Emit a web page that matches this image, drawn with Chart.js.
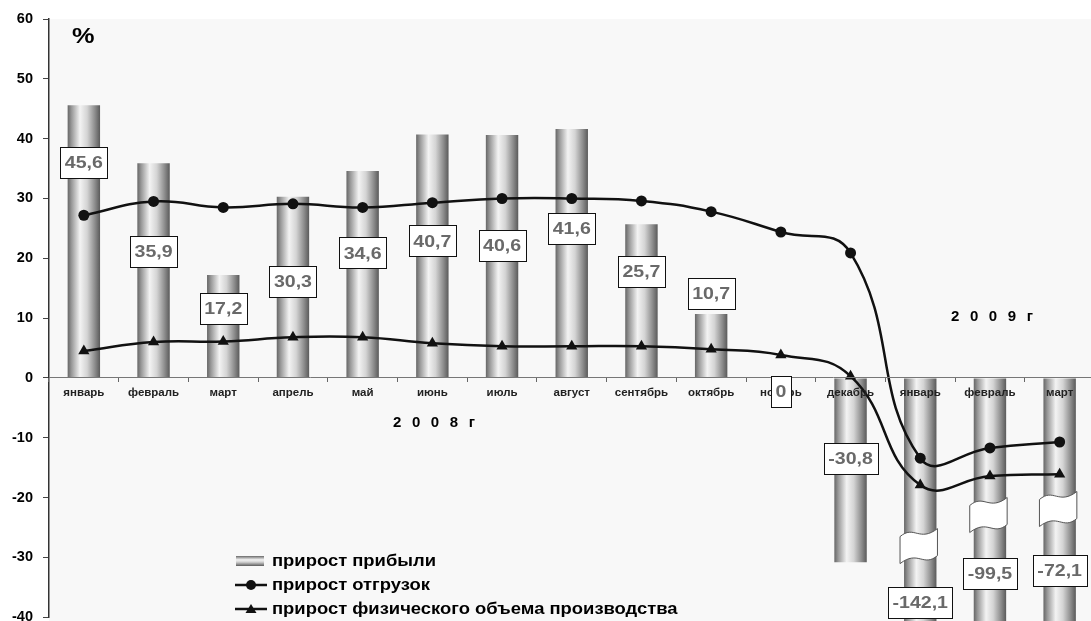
<!DOCTYPE html>
<html>
<head>
<meta charset="utf-8">
<script src="https://cdn.jsdelivr.net/npm/chart.js@4/dist/chart.umd.min.js"></script>
<style>
  html, body { margin: 0; padding: 0; overflow: hidden; background: #fff; }
  #wrap { position: absolute; left: 0; top: 0; width: 1101px; height: 636px; }
</style>
</head>
<body>
<div id="wrap"><canvas id="c" width="1101" height="636"></canvas></div>
<script>
// Months of 2008 and the first quarter of 2009
const months = ['январь','февраль','март','апрель','май','июнь','июль','август',
                'сентябрь','октябрь','ноябрь','декабрь','январь','февраль','март'];

// Profit growth, %
const profitGrowth = [45.6, 35.9, 17.2, 30.3, 34.6, 40.7, 40.6, 41.6, 25.7, 10.7, 0, -30.8, -142.1, -99.5, -72.1];

// Shipments growth, %
const shipmentGrowth = [27.2, 29.5, 28.5, 29.1, 28.5, 29.3, 30.0, 30.0, 29.6, 27.8, 24.4, 20.9, -13.4, -11.7, -10.7];

// Growth of physical output volume, %
const outputGrowth = [4.5, 6.0, 6.1, 6.8, 6.8, 5.8, 5.3, 5.3, 5.3, 4.8, 3.85, 0.3, -17.9, -16.4, -16.1];

// Y axis range and step
const yTicks = { min: -40, max: 60, step: 10 };

const seriesNames = ['прирост прибыли', 'прирост отгрузок', 'прирост физического объема производства'];

// ---- layout / styling ----
const BAR_PCT = 0.465;
const TEXT_STRETCH = 1.15;
// vertical placement (in axis units) of each value box
const labelAt = [36.0, 21.1, 11.6, 16.2, 20.9, 22.9, 22.1, 25.0, 17.8, 14.1, -2.2, -13.4, -37.5, -32.7, -32.2];
// scale-break marks drawn across bars that run off the axis
const breakAt = { 12: -28.1, 13: -22.9, 14: -21.9 };

function fmt(v) {
  return v === 0 ? '0' : v.toFixed(1).replace('.', ',');
}

function barGradient(g) {
  g.addColorStop(0, '#666666');
  g.addColorStop(0.12, '#989898');
  g.addColorStop(0.38, '#f3f3f3');
  g.addColorStop(0.6, '#d4d4d4');
  g.addColorStop(0.85, '#8a8a8a');
  g.addColorStop(1, '#5a5a5a');
  return g;
}

const plotBackground = {
  id: 'plotBackground',
  beforeDraw(chart) {
    const { ctx, chartArea: a } = chart;
    ctx.save();
    ctx.fillStyle = '#f8f8f8';
    ctx.fillRect(a.left, a.top, chart.width - a.left, chart.height - a.top);
    ctx.restore();
  }
};

function stretchedText(ctx, text, x, y, align) {
  ctx.save();
  ctx.translate(x, y);
  ctx.scale(TEXT_STRETCH, 1);
  ctx.textAlign = align || 'center';
  ctx.fillText(text, 0, 0);
  ctx.restore();
}

const breaks = {
  id: 'breaks',
  afterDatasetDraw(chart, args) {
    if (args.index !== 0) return;
    const { ctx, chartArea: a } = chart;
    const xs = chart.scales.x, ys = chart.scales.y;
    const w = (a.width / months.length) * BAR_PCT;
    ctx.save();
    Object.keys(breakAt).forEach(k => {
      const cx = xs.getPixelForValue(+k);
      const cy = ys.getPixelForValue(breakAt[k]);
      const x0 = cx - w / 2 - 4, x1 = cx + w / 2 + 1;
      const h = 35, top = cy - h / 2, bot = cy + h / 2;
      ctx.beginPath();
      ctx.moveTo(x0, top + 8);
      ctx.bezierCurveTo(x0 + 14, top - 4, x1 - 18, top + 14, x1, top);
      ctx.lineTo(x1, bot - 8);
      ctx.bezierCurveTo(x1 - 14, bot + 4, x0 + 18, bot - 14, x0, bot);
      ctx.closePath();
      ctx.fillStyle = '#ffffff';
      ctx.fill();
      ctx.strokeStyle = '#555';
      ctx.lineWidth = 1;
      ctx.stroke();
    });
    ctx.restore();
  }
};

const overlay = {
  id: 'overlay',
  afterDraw(chart) {
    const { ctx } = chart;
    const xs = chart.scales.x, ys = chart.scales.y;
    ctx.save();

    // value boxes
    ctx.font = 'bold 17px "Liberation Sans", Arial, sans-serif';
    ctx.textBaseline = 'middle';
    profitGrowth.forEach((v, i) => {
      const t = fmt(v);
      const tw = ctx.measureText(t).width * TEXT_STRETCH;
      const bw = Math.round(tw + 9), bh = 31;
      const cx = xs.getPixelForValue(i);
      const cy = ys.getPixelForValue(labelAt[i]);
      const bx = Math.round(cx - bw / 2) + 0.5, by = Math.round(cy - bh / 2) + 0.5;
      ctx.fillStyle = '#ffffff';
      ctx.fillRect(bx, by, bw, bh);
      ctx.strokeStyle = '#111';
      ctx.lineWidth = 1;
      ctx.strokeRect(bx, by, bw, bh);
      ctx.fillStyle = '#696969';
      stretchedText(ctx, t, cx, cy + 1);
    });

    // captions
    ctx.fillStyle = '#000';
    ctx.font = 'bold 22px "Liberation Sans", Arial, sans-serif';
    ctx.textBaseline = 'middle';
    stretchedText(ctx, '%', 72, 37, 'left');

    ctx.font = 'bold 15px "Liberation Sans", Arial, sans-serif';
    ctx.letterSpacing = '3.2px';
    ctx.textAlign = 'left';
    ctx.fillText('2 0 0 8 г', 393, 423);
    ctx.fillText('2 0 0 9 г', 951, 317);
    ctx.letterSpacing = '0px';

    // legend
    const lx0 = 235, lx1 = 267, tx = 272;
    const rows = [561, 585, 609];
    ctx.font = 'bold 16px "Liberation Sans", Arial, sans-serif';
    rows.forEach((y, i) => {
      if (i === 0) {
        const g = barGradient(ctx.createLinearGradient(0, y - 5, 0, y + 5));
        ctx.fillStyle = g;
        ctx.fillRect(lx0 + 1, y - 5, lx1 - lx0 - 4, 10);
      } else {
        ctx.strokeStyle = '#111';
        ctx.lineWidth = 2.5;
        ctx.beginPath();
        ctx.moveTo(lx0, y);
        ctx.lineTo(lx1, y);
        ctx.stroke();
        ctx.fillStyle = '#111';
        ctx.beginPath();
        if (i === 1) {
          ctx.arc((lx0 + lx1) / 2, y, 5, 0, Math.PI * 2);
        } else {
          const c = (lx0 + lx1) / 2;
          ctx.moveTo(c, y - 5);
          ctx.lineTo(c + 5.5, y + 4);
          ctx.lineTo(c - 5.5, y + 4);
          ctx.closePath();
        }
        ctx.fill();
      }
      ctx.fillStyle = '#000';
      stretchedText(ctx, seriesNames[i], tx, y + 1, 'left');
    });

    ctx.restore();
  }
};

const FONT = '"Liberation Sans", Arial, sans-serif';

new Chart(document.getElementById('c'), {
  data: {
    labels: months,
    datasets: [
      {
        type: 'bar',
        label: seriesNames[0],
        data: profitGrowth,
        order: 3,
        clip: false,
        barPercentage: BAR_PCT,
        categoryPercentage: 1,
        borderWidth: 0,
        backgroundColor(c) {
          const chart = c.chart, a = chart.chartArea;
          if (!a || c.dataIndex === undefined) return '#aaa';
          const cx = chart.scales.x.getPixelForValue(c.dataIndex);
          const w = (a.width / months.length) * BAR_PCT;
          return barGradient(chart.ctx.createLinearGradient(cx - w / 2, 0, cx + w / 2, 0));
        }
      },
      {
        type: 'line',
        label: seriesNames[1],
        data: shipmentGrowth,
        order: 1,
        borderColor: '#111',
        borderWidth: 2.5,
        tension: 0.45,
        pointStyle: 'circle',
        pointRadius: 5.5,
        pointBackgroundColor: '#111',
        pointBorderColor: '#111',
        pointBorderWidth: 0
      },
      {
        type: 'line',
        label: seriesNames[2],
        data: outputGrowth,
        order: 2,
        borderColor: '#111',
        borderWidth: 2.5,
        tension: 0.45,
        pointStyle: 'triangle',
        pointRadius: 6.5,
        pointBackgroundColor: '#111',
        pointBorderColor: '#111',
        pointBorderWidth: 0
      }
    ]
  },
  options: {
    responsive: false,
    animation: false,
    devicePixelRatio: 1,
    layout: { padding: { top: 19, right: 0, bottom: 14, left: 0 } },
    plugins: { legend: { display: false }, tooltip: { enabled: false } },
    scales: {
      x: {
        type: 'category',
        position: { y: 0 },
        offset: true,
        grid: { display: true, drawOnChartArea: false, drawTicks: true, tickLength: 4, offset: true, color: '#666', z: 1 },
        border: { display: true, color: '#777', width: 1, z: 1 },
        ticks: { z: 1, autoSkip: false, maxRotation: 0, padding: 4, color: '#222', font: { family: FONT, size: 11.5, weight: 'bold' } }
      },
      y: {
        min: yTicks.min,
        max: yTicks.max,
        afterFit(s) { s.width = 49; },
        grid: { display: true, drawOnChartArea: false, drawTicks: true, tickLength: 6, color: '#444' },
        border: { display: true, color: '#333', width: 1.5 },
        ticks: { stepSize: yTicks.step, padding: 10, color: '#000', font: { family: FONT, size: 14.5, weight: 'bold' } }
      }
    }
  },
  plugins: [plotBackground, breaks, overlay]
});
</script>
</body>
</html>
